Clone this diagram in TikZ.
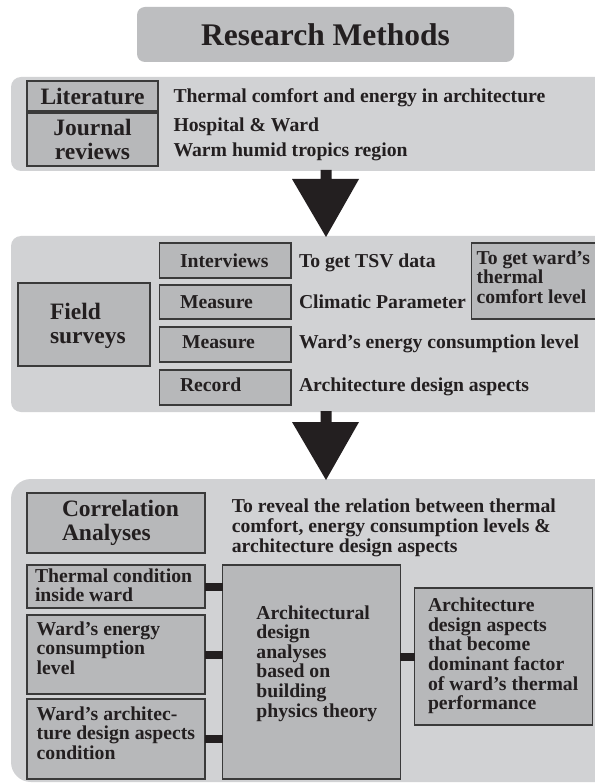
\documentclass[tikz,border=0pt]{standalone}
\usepackage{fontspec}
\setmainfont{Liberation Serif}
\usetikzlibrary{calc}
\definecolor{panelgray}{HTML}{D1D2D4}
\definecolor{boxgray}{HTML}{B7B8BA}
\definecolor{titlegray}{HTML}{BDBEC0}
\definecolor{edgegray}{HTML}{3A3A3A}
\definecolor{ink}{HTML}{231F20}
\begin{document}
\begin{tikzpicture}[x=1pt,y=-1pt,
  panel/.style={fill=panelgray, draw=none},
  box/.style={draw=edgegray, line width=1.2pt, fill=boxgray, inner sep=0pt, outer sep=0pt, rectangle, text=ink},
  body/.style={inner sep=0pt, outer sep=0pt, text=ink, font=\fontsize{19.7}{19.6}\selectfont\bfseries, align=left},
  big/.style={inner sep=0pt, outer sep=0pt, text=ink, font=\fontsize{23.5}{23.5}\selectfont\bfseries},
  conn/.style={line width=8pt, draw=ink},
  blockarrow/.style={fill=ink, draw=none}]
\useasboundingbox (0,0) rectangle (594,783);
\fill[white] (0,0) rectangle (594,783);

% title
\node[fill=titlegray, rounded corners=8pt, minimum width=377pt, minimum height=55pt, inner sep=0pt,
      text=ink, font=\fontsize{31.5}{32}\selectfont\bfseries] (title) at (325.5,34.5) {Research Methods};

% panels
\path[panel, rounded corners=10pt] (11,77) rectangle (640,171);
\path[panel, rounded corners=10pt] (11,236) rectangle (640,412);
\path[panel, rounded corners=20pt] (11,479) rectangle (640,782);
\coordinate (p1s) at (326,170);
\coordinate (p2n) at (326,237);
\coordinate (p2s) at (326,411);
\coordinate (p3n) at (326,480);

% block arrows
\fill[blockarrow] ($(p1s)+(-5.5,0)$) -- ($(p1s)+(5.5,0)$) -- ($(p1s)+(5.5,9)$) -- ($(p1s)+(33,9)$)
   -- (p2n) -- ($(p1s)+(-34,9)$) -- ($(p1s)+(-5.5,9)$) -- cycle;
\fill[blockarrow] ($(p2s)+(-5.5,0)$) -- ($(p2s)+(5.5,0)$) -- ($(p2s)+(5.5,11)$) -- ($(p2s)+(33,11)$)
   -- (p3n) -- ($(p2s)+(-34,11)$) -- ($(p2s)+(-5.5,11)$) -- cycle;

% panel 1
\node[box, big, minimum width=131pt, minimum height=30pt] (lit) at (92.5,96) {Literature};
\node[box, big, align=center, minimum width=131pt, minimum height=53pt] (jour) at (92.5,139.5) {Journal\\reviews};
\node[body, anchor=base west] (t1) at (173.5,103) {Thermal comfort and energy in architecture};
\node[body, anchor=base west] (t2) at (173.5,132) {Hospital \& Ward};
\node[body, anchor=base west] (t3) at (173.5,157) {Warm humid tropics region};

% panel 2
\node[box, minimum width=132pt, minimum height=83pt] (field) at (84,324.5) {};
\node[big, align=left, anchor=north west] (fieldt) at (50,303.5) {\strut Field\\surveys};
\node[box, minimum width=131.5pt, minimum height=35pt] (intv) at (225.25,260.5) {};
\node[box, minimum width=131.5pt, minimum height=34pt] (meas1) at (225.25,302) {};
\node[box, minimum width=131.5pt, minimum height=35pt] (meas2) at (225.25,344.5) {};
\node[box, minimum width=131.5pt, minimum height=35pt] (rec) at (225.25,387.5) {};
\node[body, anchor=base west] (intvt) at (180,267) {Interviews};
\node[body, anchor=base west] (meas1t) at (180,308) {Measure};
\node[body, anchor=base west] (meas2t) at (182,348) {Measure};
\node[body, anchor=base west] (rect) at (180,391) {Record};
\node[body, anchor=base west] (s1) at (299,267) {To get TSV data};
\node[body, anchor=base west] (s2) at (299,308) {Climatic Parameter};
\node[body, anchor=base west] (s3) at (299,348) {Ward's energy consumption level};
\node[body, anchor=base west] (s4) at (299,391) {Architecture design aspects};
\node[box, minimum width=168.4pt, minimum height=76pt] (goal) at (555.8,281) {};
\node[body, anchor=north west] (goalt) at (476.5,250.3) {\strut To get ward's\\thermal\\comfort level};

% panel 3
\node[box, minimum width=178pt, minimum height=60pt] (corr) at (116,523) {};
\node[big, align=left, anchor=north west] (corrt) at (62,500.3) {\strut Correlation\\Analyses};
\node[body, anchor=north west] (reveal) at (231.8,498.3) {\strut To reveal the relation between thermal\\comfort, energy consumption levels \&\\architecture design aspects};

\node[box, minimum width=178pt, minimum height=43pt] (tc) at (116,586.5) {};
\node[box, minimum width=178pt, minimum height=79pt] (ec) at (116,654.5) {};
\node[box, minimum width=178pt, minimum height=80pt] (ac) at (116,739) {};
\node[box, minimum width=177.7pt, minimum height=214pt] (ada) at (311.55,672) {};
\node[box, minimum width=178pt, minimum height=137pt] (rb) at (503.8,656.5) {};

\draw[conn] (tc.east) -- (tc.east -| ada.west);
\draw[conn] (ec.east) -- (ec.east -| ada.west);
\draw[conn] (ac.east) -- (ac.east -| ada.west);
\draw[conn] (ada.east |- rb.west) -- (rb.west);

\node[body, anchor=north west] (tct) at (35,568.6) {\strut Thermal condition\\inside ward};
\node[body, anchor=north west] (ect) at (36.7,621.3) {\strut Ward's energy\\consumption\\level};
\node[body, anchor=north west] (act) at (36.7,706.3) {\strut Ward's architec-\\ture design aspects\\condition};
\node[body, anchor=north west] (adat) at (256.4,605.3) {\strut Architectural\\design\\analyses\\based on\\building\\physics theory};
\node[body, anchor=north west] (rbt) at (428,598) {\strut Architecture\\design aspects\\that become\\dominant factor\\of ward's thermal\\performance};
\end{tikzpicture}
\end{document}
